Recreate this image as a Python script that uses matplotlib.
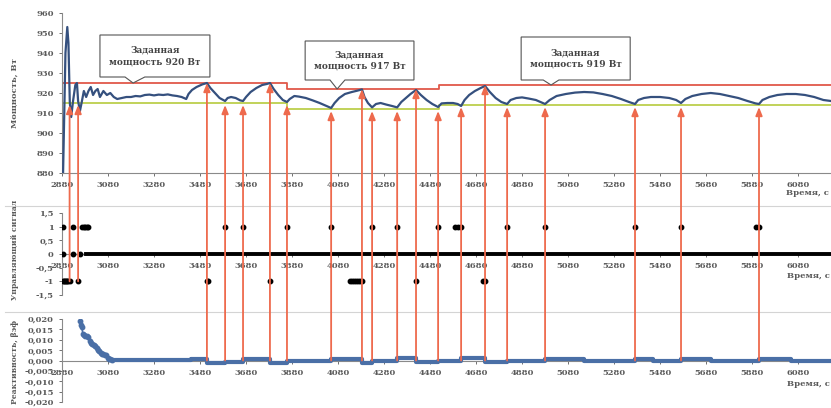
import matplotlib.pyplot as plt
import numpy as np
from matplotlib.lines import Line2D
from matplotlib.patches import Polygon, ConnectionPatch
from matplotlib.ticker import FuncFormatter

plt.rcParams['font.family'] = ['DejaVu Serif']
plt.rcParams['font.weight'] = 'bold'

# Мощность реактора, Вт
power_t = [2884, 2895, 2903, 2908, 2914, 2920, 2928, 2938, 2945, 2950, 2958, 2965,
           2975, 2985, 2995, 3005, 3015, 3025, 3035, 3045, 3060, 3075, 3090, 3105,
           3120, 3140, 3160, 3180, 3200, 3220, 3240, 3260, 3280, 3300, 3320, 3340,
           3360, 3380, 3400, 3420, 3430, 3445, 3465, 3490, 3510, 3525, 3545, 3565,
           3589, 3600, 3615, 3635, 3655, 3667, 3680, 3700, 3725, 3750, 3770, 3784,
           3800, 3820, 3840, 3858, 3870, 3890, 3910, 3940, 3970, 4000, 4030, 4050,
           4065, 4085, 4110, 4140, 4165, 4184, 4195, 4210, 4228, 4245, 4265, 4290,
           4315, 4337, 4355, 4375, 4395, 4419, 4440, 4465, 4490, 4515, 4530, 4555,
           4580, 4600, 4615, 4630, 4650, 4675, 4700, 4719, 4740, 4765, 4790, 4815,
           4830, 4855, 4880, 4910, 4940, 4960, 4980, 5000, 5030, 5070, 5110, 5150,
           5190, 5230, 5270, 5310, 5345, 5371, 5385, 5410, 5440, 5480, 5520, 5550,
           5571, 5590, 5620, 5660, 5700, 5740, 5780, 5820, 5860, 5895, 5910, 5925,
           5955, 5990, 6030, 6070, 6110, 6150, 6190, 6223]
power_w = [876, 940, 953, 945, 915, 908, 916, 924, 925, 916, 911, 915,
           921, 918, 921, 923, 919, 921, 922, 918, 921, 919, 920, 918,
           917, 917.5, 918, 918, 918.5, 918.3, 919, 919.2, 918.8, 919.2, 919, 919.3,
           918.8, 918.5, 918, 917, 919.5, 921.5, 923, 924.3, 925, 922.5, 920, 917.5,
           916, 917.5, 918, 917.5, 916.3, 916, 918, 920.5, 922.5, 924, 924.5, 925,
           922, 919, 916.5, 915.5, 917, 918.5, 918.2, 917.5, 916.3, 915, 913.5, 912.5,
           915, 917.5, 919.5, 920.5, 921.2, 921.8, 918, 915, 912.8, 914.5, 915, 914.2,
           913.5, 912.8, 915.5, 917.5, 919.5, 921.5, 919, 916.5, 914.5, 913, 914.8, 915,
           915, 914.5, 913.5, 916.5, 919, 921, 922.5, 923.5, 920.5, 917.5, 915.5, 914.5,
           916.5, 917.5, 917.8, 917.2, 916.5, 915.5, 914.5, 916.5, 918.5, 919.5, 920.2, 920.5,
           920.3, 919.5, 918.5, 917, 915.5, 914.5, 916.5, 917.5, 918, 918, 917.5, 916.5,
           915, 917, 918.5, 919.5, 920, 919.5, 918.5, 917.5, 916, 914.8, 914.5, 916.5,
           918, 919, 919.5, 919.5, 919, 918, 916.5, 916]

# Заданная мощность и допуск ±5 Вт
setpoint_t = [2880, 3860, 4520, 6223]
setpoint_w = [920, 917, 919, 919]
tolerance = 5

# Управляющий сигнал
signal_plus_t = [2884, 2928, 2967, 2975, 2982, 2989, 2995, 3589, 3667, 3858, 4050,
                 4228, 4337, 4515, 4589, 4602, 4615, 4815, 4980, 5371, 5571, 5897, 5910]
signal_minus_t = [2884, 2888, 2893, 2898, 2903, 2908, 2913, 2950, 3510, 3515, 3784,
                  4132, 4141, 4150, 4158, 4166, 4175, 4184, 4419, 4710, 4719]
signal_zero_t = [2884, 2928, 2960]
signal_zero_run = [2985, 6223]

# Реактивность: начальный спад и далее ступени после каждого воздействия
decay_t = [2958, 2962, 2966, 2971, 2976, 2981, 2987, 2993, 3000, 3006, 3012, 3018, 3024,
           3030, 3036, 3042, 3048, 3054, 3060, 3066, 3072, 3078, 3084, 3090, 3096]
decay_r = [0.0192, 0.0170, 0.0160, 0.0128, 0.0122, 0.0120, 0.0118, 0.0112, 0.0095,
           0.0082, 0.0080, 0.0077, 0.0072, 0.0060, 0.0052, 0.0048, 0.0035, 0.0032,
           0.0030, 0.0028, 0.0025, 0.0012, 0.0009, 0.0006, 0.0004]
step_t = [3100, 3440, 3510, 3589, 3667, 3784, 3858, 4050, 4184, 4228, 4337, 4419, 4515,
          4615, 4719, 4815, 4980, 5150, 5371, 5450, 5571, 5700, 5910, 6050, 6223]
step_r = [0.0003, 0.0008, -0.0010, -0.0005, 0.0007, -0.0011, -0.0004, 0.0009, -0.0014,
          -0.0002, 0.0013, -0.0008, -0.0003, 0.0010, -0.0008, -0.0003, 0.0006, -0.0002,
          0.0006, -0.0001, 0.0005, -0.0002, 0.0007, 0.0000, 0.0000]

# Моменты воздействий: 'low' - выход за нижнюю границу, 'high' - за верхнюю
action_t = [2913, 2950, 3510, 3589, 3667, 3784, 3858, 4050, 4184, 4228, 4337, 4419,
            4515, 4615, 4719, 4815, 4980, 5371, 5571, 5910]
action_kind = ['low', 'low', 'high', 'low', 'low', 'high', 'low', 'low', 'high', 'low',
               'low', 'high', 'low', 'low', 'high', 'low', 'low', 'low', 'low', 'low']

callouts = [
    ('Заданная\nмощность 920 Вт', (3045, 3523, 928, 949), (3154, 3240), 3189),
    ('Заданная\nмощность 917 Вт', (3937, 4410, 926.5, 946), (4045, 4110), 4076),
    ('Заданная\nмощность 919 Вт', (4876, 5350, 926.5, 948), (4972, 5040), 5006),
]

W, H = 831, 408
fig = plt.figure(figsize=(W / 100, H / 100), dpi=100)


def add_axes_px(x0, y_top, x1, y_bot):
    return fig.add_axes([x0 / W, 1 - y_bot / H, (x1 - x0) / W, (y_bot - y_top) / H])


ax1 = add_axes_px(62, 13, 831, 173)
ax2 = add_axes_px(62, 213, 831, 295)
ax3 = add_axes_px(62, 319, 831, 402)

grey = '#5a5a5a'
comma = FuncFormatter(lambda v, p: f'{v:g}'.replace('.', ','))
comma3 = FuncFormatter(lambda v, p: f'{v:.3f}'.replace('.', ','))

for ax in (ax1, ax2, ax3):
    ax.set_xlim(2880, 6223)
    ax.set_xticks(np.arange(2880, 6081, 200))
    ax.spines[['top', 'right']].set_visible(False)
    for s in ('left', 'bottom'):
        ax.spines[s].set_color('#8a8a8a')
        ax.spines[s].set_linewidth(0.8)
    ax.tick_params(labelsize=6, colors=grey, length=2, width=0.6, pad=4)
    ax.patch.set_alpha(0)

ax1.set_ylim(880, 960)
ax1.set_yticks(np.arange(880, 961, 10))

ax2.set_ylim(-1.5, 1.5)
ax2.set_yticks(np.arange(-1.5, 1.51, 0.5))
ax2.yaxis.set_major_formatter(comma)
ax2.spines['bottom'].set_position(('data', 0))

ax3.set_ylim(-0.02, 0.02)
ax3.set_yticks(np.arange(-0.02, 0.0201, 0.005))
ax3.yaxis.set_major_formatter(comma3)
ax3.spines['bottom'].set_position(('data', 0))

# верхняя панель: мощность, уставка и границы допуска
upper = [w + tolerance for w in setpoint_w]
lower = [w - tolerance for w in setpoint_w]
ax1.plot(setpoint_t, upper, drawstyle='steps-post', color='#e0584a', lw=1.3, zorder=2)
ax1.plot(setpoint_t, lower, drawstyle='steps-post', color='#bccf4c', lw=1.3, zorder=2)
ax1.plot(power_t, power_w, color='#35507e', lw=1.6, zorder=3)

for text, (x0, x1, y0, y1), (b0, b1), tip_x in callouts:
    i = np.searchsorted(setpoint_t, tip_x, side='right') - 1
    tip_y = upper[i]
    shape = [(x0, y1), (x1, y1), (x1, y0), (b1, y0), (tip_x, tip_y), (b0, y0), (x0, y0)]
    ax1.add_patch(Polygon(shape, closed=True, fc='white', ec='#555555', lw=0.8,
                          clip_on=False, zorder=5))
    ax1.text((x0 + x1) / 2, (y0 + y1) / 2, text, ha='center', va='center',
             fontsize=6.5, color='#444444', linespacing=1.3, zorder=6)

# средняя панель: управляющий сигнал
ax2.plot(signal_zero_run, [0, 0], color='black', lw=2.8, zorder=3)
ax2.plot(signal_zero_t, [0] * len(signal_zero_t), 'o', color='black', ms=3.2, zorder=3)
ax2.plot(signal_plus_t, [1] * len(signal_plus_t), 'o', color='black', ms=3.2, zorder=3)
ax2.plot(signal_minus_t, [-1] * len(signal_minus_t), 'o', color='black', ms=3.2, zorder=3)

# нижняя панель: реактивность
blue = '#4a6fa6'
ax3.plot(decay_t, decay_r, 'o-', color=blue, ms=3.2, lw=1.2, zorder=3)
ax3.plot([decay_t[-1], step_t[0]], [decay_r[-1], step_r[0]], color=blue, lw=3.0, zorder=3)
ax3.plot(step_t, step_r, drawstyle='steps-post', color=blue, lw=3.0, zorder=3)

# стрелки от моментов воздействия к кривой мощности
for t, kind in zip(action_t, action_kind):
    i = np.searchsorted(setpoint_t, t, side='right') - 1
    tip = upper[i] if kind == 'high' else lower[i] - 1
    if t < 3000:
        start, src = (t, -1), ax2
    else:
        start, src = (t, 0), ax3
    con = ConnectionPatch(xyA=start, coordsA=src.transData, xyB=(t, tip),
                          coordsB=ax1.transData,
                          arrowstyle='-|>,head_length=0.55,head_width=0.22',
                          mutation_scale=9, shrinkA=0, shrinkB=0,
                          color='#ee6a4d', lw=1.3, zorder=10)
    fig.add_artist(con)

# подписи осей
fig.text(15 / W, 1 - 93 / H, 'Мощность, Вт', fontsize=6, color=grey,
         ha='center', va='center', rotation=90)
fig.text(15 / W, 1 - 250 / H, 'Управляющий сигнал', fontsize=5.5, color=grey,
         ha='center', va='center', rotation=90)
fig.text(15 / W, 1 - 362 / H, 'Реактивность, βэф', fontsize=5.5, color=grey,
         ha='center', va='center', rotation=90)

time_kw = dict(fontsize=6, color=grey, ha='right', va='center')
fig.text(829 / W, 1 - 193 / H, 'Время, с', **time_kw)
fig.text(830 / W, 1 - 276 / H, 'Время, с', **time_kw)
fig.text(830 / W, 1 - 384 / H, 'Время, с', **time_kw)

# разделители панелей
for y in (206, 312):
    fig.add_artist(Line2D([5 / W, 1], [1 - y / H] * 2, transform=fig.transFigure,
                          color='#d4d4d4', lw=0.8))

fig.savefig('out.png', dpi=100)
